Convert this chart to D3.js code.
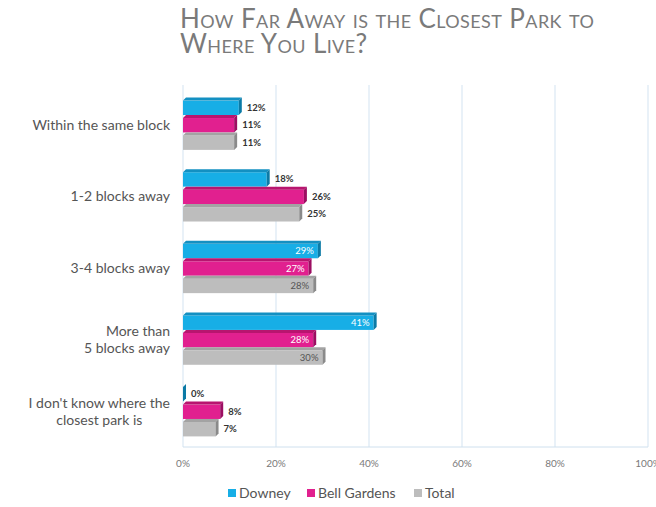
<!DOCTYPE html>
<html>
<head>
<meta charset="utf-8">
<script src="https://cdn.jsdelivr.net/npm/d3@7"></script>
<style>
  body { margin: 0; background: #fff; }
  text { font-family: Lato, "Open Sans", sans-serif; }
</style>
</head>
<body>
<svg width="656" height="507"></svg>
<script>
// chart data
var categories = ['Within the same block', '1-2 blocks away', '3-4 blocks away',
  'More than\n5 blocks away', "I don't know where the\nclosest park is"];
var seriesNames = ['Downey', 'Bell Gardens', 'Total'];
var downey = [12, 18, 29, 41, 0];
var bellGardens = [11, 26, 27, 28, 8];
var total = [11, 25, 28, 30, 7];
var ticks = [0, 20, 40, 60, 80, 100];

var colors = ['#17aee6', '#e1208f', '#bdbdbd'];
var sideColors = ['#0b7aa6', '#9c0e62', '#8a8a8a'];
var topColors = ['#1390c2', '#b8156f', '#a3a3a3'];

var svg = d3.select('svg');

// title, small caps
var title = svg.append('text')
  .attr('x', 180)
  .attr('fill', '#7a7a7a')
  .style('font-size', '26px')
  .style('letter-spacing', '0.4px')
  .style('font-variant', 'small-caps');
title.append('tspan').attr('x', 180).attr('y', 28).text('How Far Away is the Closest Park to');
title.append('tspan').attr('x', 180).attr('y', 53).text('Where You Live?');

var x = d3.scaleLinear().domain([0, 100]).range([183, 648]);
var y = d3.scaleBand().domain(d3.range(categories.length)).range([89, 445]).paddingInner(0.27).paddingOuter(0.12);
var ySub = d3.scaleBand().domain(d3.range(3)).range([0, y.bandwidth()]);

// grid
svg.append('g').selectAll('line')
  .data(ticks)
  .enter().append('line')
  .attr('x1', function(d) { return x(d); })
  .attr('x2', function(d) { return x(d); })
  .attr('y1', 85)
  .attr('y2', 447)
  .attr('stroke', '#dbe8f3')
  .attr('stroke-width', 1.2);
svg.append('line')
  .attr('x1', x(0)).attr('x2', x(100))
  .attr('y1', 447).attr('y2', 447)
  .attr('stroke', '#cfe0ee');

// tick labels
svg.append('g').selectAll('text')
  .data(ticks)
  .enter().append('text')
  .attr('x', function(d) { return x(d); })
  .attr('y', 467)
  .attr('text-anchor', 'middle')
  .attr('fill', '#7a7a7a')
  .style('font-size', '10px')
  .text(function(d) { return d + '%'; });

// category labels (last one is centred under its first line)
svg.append('g').selectAll('text')
  .data(categories)
  .enter().append('text')
  .attr('text-anchor', 'end')
  .attr('fill', '#555')
  .style('font-size', '14px')
  .each(function(d, i) {
    var lines = d.split('\n');
    var cy = y(i) + y.bandwidth() / 2 + 6;
    var t = d3.select(this);
    var spans = lines.map(function(line, j) {
      return t.append('tspan')
        .attr('x', 170)
        .attr('y', cy + (j - (lines.length - 1) / 2) * 17)
        .text(line);
    });
    if (i === categories.length - 1) {
      var w = spans[0].node().getComputedTextLength();
      t.attr('text-anchor', 'middle');
      spans.forEach(function(s) { s.attr('x', 170 - w / 2); });
    }
  });

// bars
var rows = [];
categories.forEach(function(c, i) {
  [downey, bellGardens, total].forEach(function(s, k) {
    rows.push({ cat: i, s: k, v: s[i] });
  });
});

var dd = 3;
var bars = svg.append('g').selectAll('g')
  .data(rows)
  .enter().append('g');

bars.each(function(d) {
  var g = d3.select(this);
  var y0 = y(d.cat) + ySub(d.s) + dd;
  var h = ySub.bandwidth() - dd;
  var x0 = x(0);
  var x1 = x(d.v);
  g.append('rect')
    .attr('x', x0).attr('y', y0)
    .attr('width', Math.max(x1 - x0, 0)).attr('height', h)
    .attr('fill', colors[d.s]);
  g.append('polygon')
    .attr('points', [[x0, y0], [x0 + dd, y0 - dd], [x1 + dd, y0 - dd], [x1, y0]].join(' '))
    .attr('fill', topColors[d.s]);
  g.append('polygon')
    .attr('points', [[x1, y0], [x1 + dd, y0 - dd], [x1 + dd, y0 + h - dd], [x1, y0 + h]].join(' '))
    .attr('fill', sideColors[d.s]);

  var inside = d.v >= 27;
  g.append('text')
    .attr('x', inside ? x1 - 4 : x1 + 8)
    .attr('y', y0 + h / 2 + 3)
    .attr('text-anchor', inside ? 'end' : 'start')
    .attr('fill', inside ? (d.s === 2 ? '#555' : '#fff') : '#333')
    .style('font-size', '9.5px')
    .style('font-weight', inside ? 'normal' : 'bold')
    .text(d.v + '%');
});

// legend
var legendX = [228, 307, 414];
var legend = svg.append('g').selectAll('g')
  .data(seriesNames)
  .enter().append('g')
  .attr('transform', function(d, i) { return 'translate(' + legendX[i] + ',494)'; });
legend.append('rect')
  .attr('x', 0).attr('y', -5)
  .attr('width', 8).attr('height', 8)
  .attr('fill', function(d, i) { return colors[i]; });
legend.append('text')
  .attr('x', 11).attr('y', 4)
  .attr('fill', '#555')
  .style('font-size', '14px')
  .text(function(d) { return d; });
</script>
</body>
</html>
